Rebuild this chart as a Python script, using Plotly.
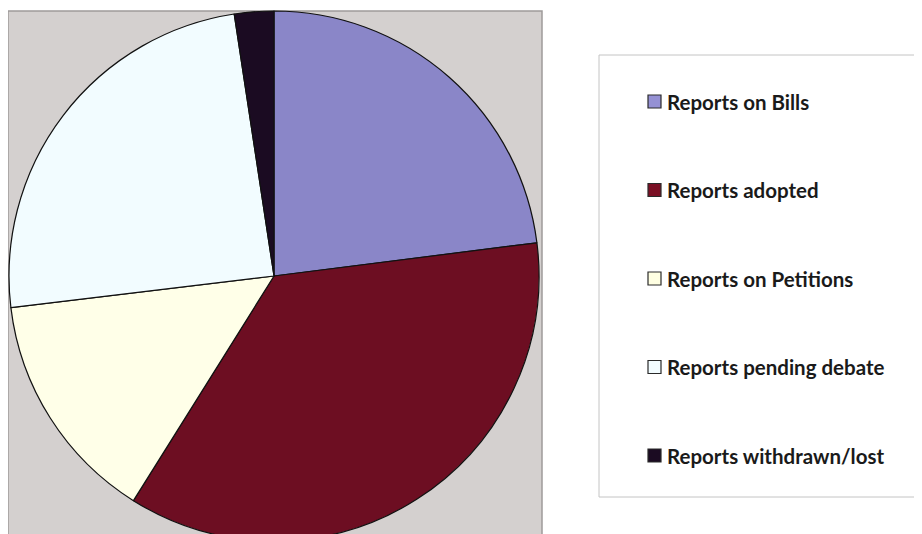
import plotly.graph_objects as go

labels = ["Reports on Bills", "Reports adopted", "Reports on Petitions",
          "Reports pending debate", "Reports withdrawn/lost"]
values = [23.0, 35.9, 14.2, 24.5, 2.4]
slice_colors = ["#8a86c8", "#6d0e22", "#ffffe8", "#f2fcff", "#1b0b22"]
key_colors = ["#9591d4", "#7a1024", "#ffffe2", "#f2fcff", "#1b0b22"]

W, H = 922, 534
OFF = 8  # page body margin
cx, cy, r = 274 - OFF, 276 - OFF, 265

def px(x):
    return (x - OFF) / W

def py(y):
    return 1 - (y - OFF) / H

fig = go.Figure()
fig.add_trace(go.Pie(
    labels=labels, values=values, sort=False, direction="clockwise", rotation=0,
    marker=dict(colors=slice_colors, line=dict(color="#111111", width=1.2)),
    textinfo="none", showlegend=False, hoverinfo="label+percent",
    domain=dict(x=[(cx - r) / W, (cx + r) / W], y=[1 - (cy + r) / H, 1 - (cy - r) / H]),
))

shapes = [
    dict(type="rect", xref="paper", yref="paper", layer="below",
         x0=px(8), x1=px(542), y0=-0.02, y1=py(11),
         fillcolor="#d4d0cf", line=dict(color="#9e9b9b", width=1.5)),
    dict(type="rect", xref="paper", yref="paper", layer="below",
         x0=px(599), x1=1.02, y0=py(497), y1=py(55),
         fillcolor="#ffffff", line=dict(color="#c4c4c4", width=1)),
]
annotations = []
row_y = [101.5, 190, 278.5, 367, 455.5]
for lab, col, yy in zip(labels, key_colors, row_y):
    shapes.append(dict(type="rect", xref="paper", yref="paper",
                       x0=px(648), x1=px(661),
                       y0=py(yy + 6.5), y1=py(yy - 6.5),
                       fillcolor=col, line=dict(color="#2a2a2a", width=1.2)))
    annotations.append(dict(xref="paper", yref="paper", x=px(665), y=py(yy),
                            xanchor="left", yanchor="middle", showarrow=False,
                            text="<b>%s</b>" % lab,
                            font=dict(family="Lato", size=20.5, color="#1a1a1a")))

fig.update_layout(
    width=W, height=H, margin=dict(l=0, r=0, t=0, b=0),
    paper_bgcolor="#ffffff", plot_bgcolor="#ffffff",
    shapes=shapes, annotations=annotations,
)
fig.write_html("out.html")
